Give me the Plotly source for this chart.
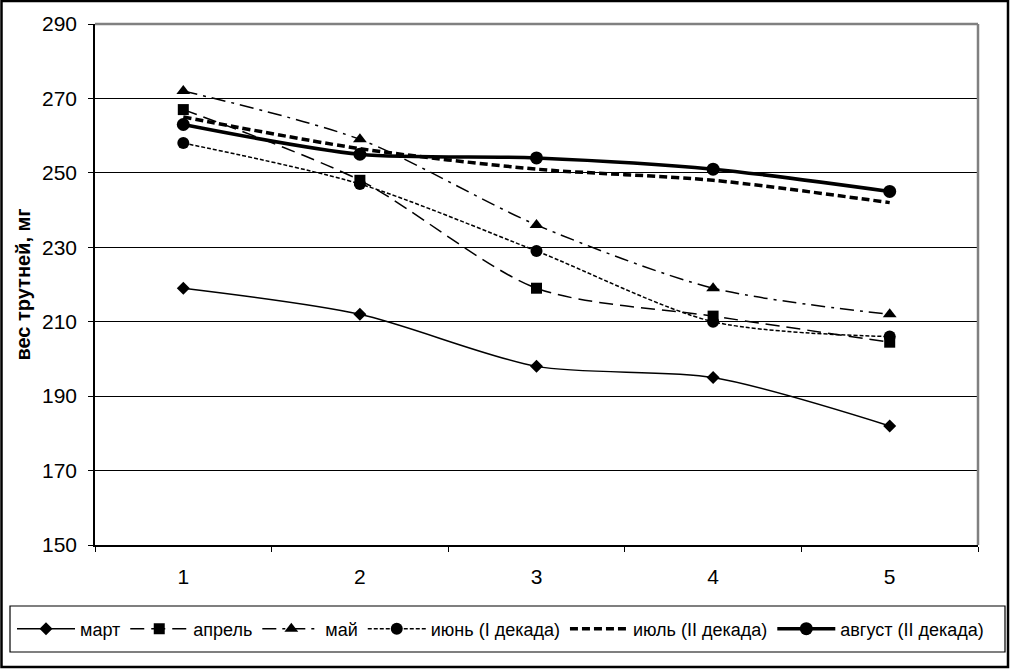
import plotly.graph_objects as go

categories = ["1", "2", "3", "4", "5"]
mart = [219, 212, 198, 195, 182]
aprel = [267, 248, 219, 211.5, 204.5]
mai = [272, 259, 236, 219, 212]
iyun = [258, 247, 229, 210, 206]
iyul = [265, 256.5, 251, 248, 242]
avgust = [263, 255, 254, 251, 245]
y_ticks = [150, 170, 190, 210, 230, 250, 270, 290]

W, H = 1011, 669
L, R, T, B = 95, 33, 24, 124
PW, PH = W - L - R, H - T - B

def px(x):
    return (x - L) / PW

def py(y):
    return (H - B - y) / PH

FONT = "Arial, Liberation Sans, sans-serif"

fig = go.Figure()

series = [
    ("март", mart, dict(color="black", width=1.5, dash="solid"), dict(symbol="diamond", size=10)),
    ("апрель", aprel, dict(color="black", width=1.5, dash="14px,7px"), dict(symbol="square", size=11)),
    ("май", mai, dict(color="black", width=1.5, dash="14px,6px,3px,6px"), dict(symbol="triangle-up", size=12)),
    ("июнь (I декада)", iyun, dict(color="black", width=1.5, dash="4px,2px"), dict(symbol="circle", size=12)),
    ("июль (II декада)", iyul, dict(color="black", width=3.5, dash="8px,4px"), None),
    ("август (II декада)", avgust, dict(color="black", width=3.5, dash="solid"), dict(symbol="circle", size=13)),
]

for name, vals, line, marker in series:
    line = dict(line, shape="spline", smoothing=0.8)
    if marker:
        fig.add_trace(go.Scatter(x=categories, y=vals, name=name, mode="lines+markers",
                                 line=line, marker=dict(marker, color="black")))
    else:
        fig.add_trace(go.Scatter(x=categories, y=vals, name=name, mode="lines", line=line))

fig.update_layout(
    width=W, height=H,
    margin=dict(l=L, r=R, t=T, b=B, pad=0, autoexpand=False),
    paper_bgcolor="white", plot_bgcolor="white",
    font=dict(family=FONT, color="black", size=18),
    showlegend=True,
    legend=dict(orientation="h", x=px(12), xanchor="left", y=py(629), yanchor="middle",
                font=dict(size=18), bgcolor="rgba(0,0,0,0)", itemwidth=58, tracegroupgap=0),
    xaxis=dict(type="category", range=[-0.5, 4.5], tickson="boundaries", ticks="outside",
               ticklen=5, tickcolor="black", showline=True, linecolor="black", linewidth=1.5,
               showgrid=False, tickfont=dict(size=21), zeroline=False, ticklabelstandoff=12),
    yaxis=dict(range=[150, 290], tickvals=y_ticks, ticks="outside", ticklen=5, tickcolor="black",
               showline=True, linecolor="black", linewidth=1.5, showgrid=True, gridcolor="black",
               gridwidth=1, tickfont=dict(size=21), zeroline=False, ticklabelstandoff=7,
               title=dict(text="<b>вес трутней, мг</b>", font=dict(size=20), standoff=6)),
    shapes=[
        dict(type="line", xref="paper", yref="paper", x0=0, x1=1, y0=1, y1=1,
             line=dict(color="#808080", width=2.5)),
        dict(type="line", xref="paper", yref="paper", x0=1, x1=1, y0=0, y1=1,
             line=dict(color="#808080", width=2.5)),
        dict(type="rect", xref="paper", yref="paper", x0=px(10), x1=px(1005), y0=py(606), y1=py(652),
             line=dict(color="black", width=1.2)),
        dict(type="rect", xref="paper", yref="paper", x0=px(1.5), x1=px(1008), y0=py(1), y1=py(667),
             line=dict(color="black", width=2.5)),
    ],
)

fig.write_html("out.html", config={"displayModeBar": False},
               post_script="document.body.style.margin='0px';document.body.style.overflow='hidden';")
